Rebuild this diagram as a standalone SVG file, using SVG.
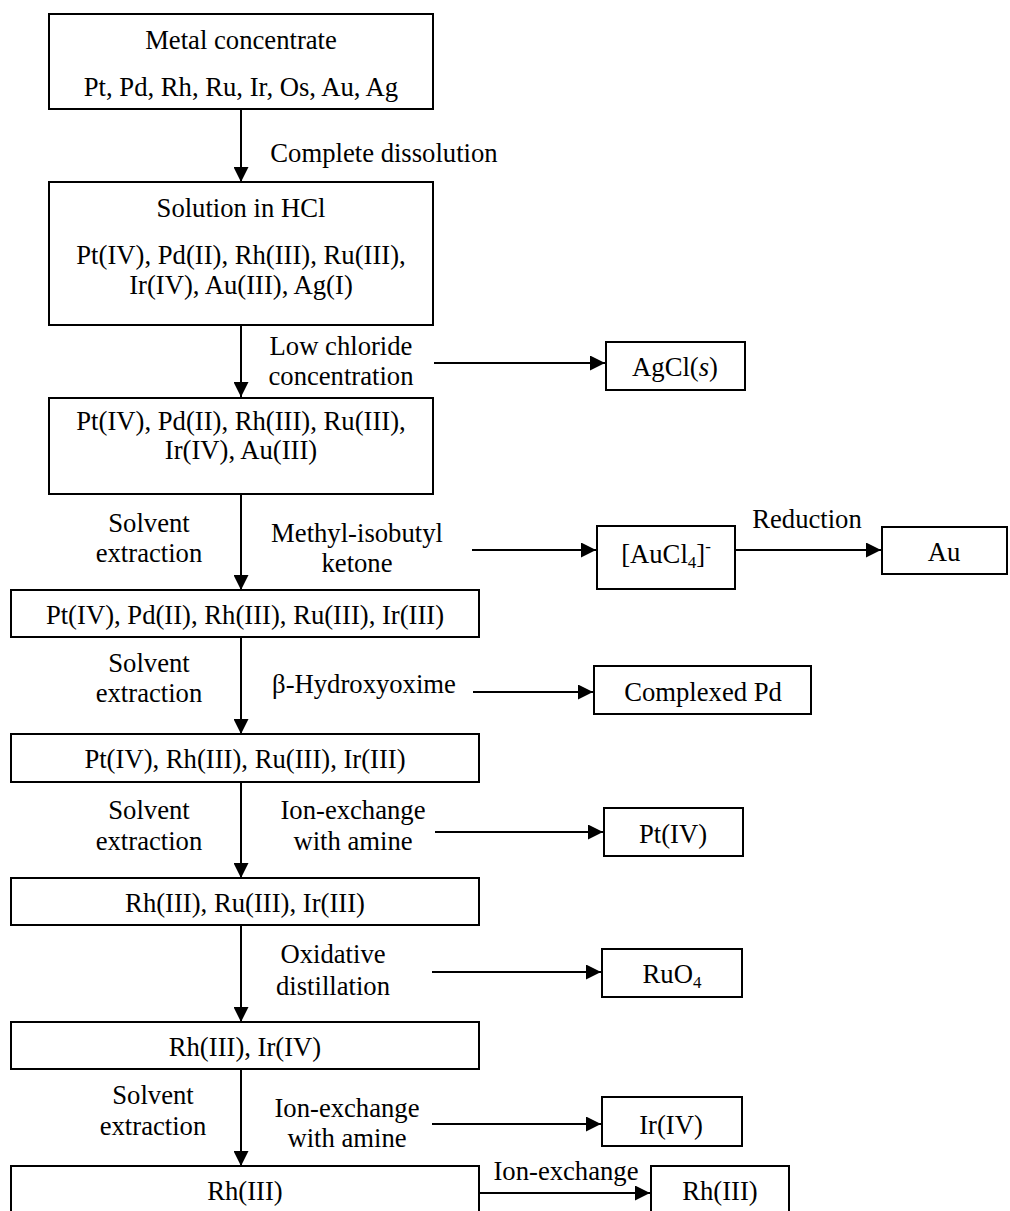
<svg xmlns="http://www.w3.org/2000/svg" width="1010" height="1211" viewBox="0 0 1010 1211">
<defs>
<style>
text{font-family:"Liberation Serif","Times New Roman",serif;font-size:26.67px;fill:#000;text-anchor:middle}
.box{fill:#fff;stroke:#000;stroke-width:2}
.ln{stroke:#000;stroke-width:2;fill:none}
.sub{font-size:17px}
</style>
<marker id="ah" markerWidth="15" markerHeight="15" viewBox="0 0 15 15" refX="15" refY="7.5" orient="auto" markerUnits="userSpaceOnUse">
<path d="M0,0 L15,7.5 L0,15 Z" fill="#000"/>
</marker>
</defs>
<rect width="1010" height="1211" fill="#fff"/>
<g id="connectors">
<line class="ln" x1="241" y1="109" x2="241" y2="182" marker-end="url(#ah)"/>
<line class="ln" x1="241" y1="325" x2="241" y2="397" marker-end="url(#ah)"/>
<line class="ln" x1="241" y1="494" x2="241" y2="590" marker-end="url(#ah)"/>
<line class="ln" x1="241" y1="637" x2="241" y2="734" marker-end="url(#ah)"/>
<line class="ln" x1="241" y1="782" x2="241" y2="878" marker-end="url(#ah)"/>
<line class="ln" x1="241" y1="925" x2="241" y2="1022" marker-end="url(#ah)"/>
<line class="ln" x1="241" y1="1069" x2="241" y2="1166" marker-end="url(#ah)"/>
<line class="ln" x1="434" y1="363" x2="605" y2="363" marker-end="url(#ah)"/>
<line class="ln" x1="472" y1="550" x2="596" y2="550" marker-end="url(#ah)"/>
<line class="ln" x1="735" y1="550" x2="881" y2="550" marker-end="url(#ah)"/>
<line class="ln" x1="473" y1="692" x2="593" y2="692" marker-end="url(#ah)"/>
<line class="ln" x1="435" y1="832" x2="603" y2="832" marker-end="url(#ah)"/>
<line class="ln" x1="432" y1="972" x2="601" y2="972" marker-end="url(#ah)"/>
<line class="ln" x1="432" y1="1124" x2="601" y2="1124" marker-end="url(#ah)"/>
<line class="ln" x1="479" y1="1193" x2="650" y2="1193" marker-end="url(#ah)"/>
<text x="384" y="162">Complete dissolution</text>
<text x="341" y="355">Low chloride</text>
<text x="341" y="385">concentration</text>
<text x="149" y="532">Solvent</text>
<text x="149" y="562">extraction</text>
<text x="357" y="542">Methyl-isobutyl</text>
<text x="357" y="572">ketone</text>
<text x="807" y="528">Reduction</text>
<text x="149" y="672">Solvent</text>
<text x="149" y="702">extraction</text>
<text x="364" y="693">β-Hydroxyoxime</text>
<text x="149" y="819">Solvent</text>
<text x="149" y="850">extraction</text>
<text x="353" y="819">Ion-exchange</text>
<text x="353" y="850">with amine</text>
<text x="333" y="963">Oxidative</text>
<text x="333" y="995">distillation</text>
<text x="153" y="1104">Solvent</text>
<text x="153" y="1135">extraction</text>
<text x="347" y="1117">Ion-exchange</text>
<text x="347" y="1147">with amine</text>
<text x="566" y="1180">Ion-exchange</text>
</g>
<g id="n1"><rect class="box" x="49" y="14" width="384" height="95"/>
<text x="241" y="49">Metal concentrate</text>
<text x="241" y="96">Pt, Pd, Rh, Ru, Ir, Os, Au, Ag</text></g>
<g id="n2"><rect class="box" x="49" y="182" width="384" height="143"/>
<text x="241" y="217">Solution in HCl</text>
<text x="241" y="264">Pt(IV), Pd(II), Rh(III), Ru(III),</text>
<text x="241" y="294">Ir(IV), Au(III), Ag(I)</text></g>
<g id="n3"><rect class="box" x="49" y="398" width="384" height="96"/>
<text x="241" y="430">Pt(IV), Pd(II), Rh(III), Ru(III),</text>
<text x="241" y="459">Ir(IV), Au(III)</text></g>
<g id="n4"><rect class="box" x="11" y="590" width="468" height="47"/>
<text x="245" y="624">Pt(IV), Pd(II), Rh(III), Ru(III), Ir(III)</text></g>
<g id="n5"><rect class="box" x="11" y="734" width="468" height="48"/>
<text x="245" y="768">Pt(IV), Rh(III), Ru(III), Ir(III)</text></g>
<g id="n6"><rect class="box" x="11" y="878" width="468" height="47"/>
<text x="245" y="912">Rh(III), Ru(III), Ir(III)</text></g>
<g id="n7"><rect class="box" x="11" y="1022" width="468" height="47"/>
<text x="245" y="1056">Rh(III), Ir(IV)</text></g>
<g id="n8"><rect class="box" x="11" y="1166" width="468" height="60"/>
<text x="245" y="1200">Rh(III)</text></g>
<g id="agcl"><rect class="box" x="606" y="342" width="139" height="48"/>
<text x="675" y="376">AgCl(<tspan font-style="italic">s</tspan>)</text></g>
<g id="aucl4"><rect class="box" x="597" y="526" width="138" height="63"/>
<text x="666" y="563">[AuCl<tspan class="sub" dy="5">4</tspan><tspan dy="-5">]</tspan><tspan class="sub" dy="-11">-</tspan></text></g>
<g id="au"><rect class="box" x="882" y="527" width="125" height="47"/>
<text x="944" y="561">Au</text></g>
<g id="pd"><rect class="box" x="594" y="666" width="217" height="48"/>
<text x="703" y="701">Complexed Pd</text></g>
<g id="pt"><rect class="box" x="604" y="808" width="139" height="48"/>
<text x="673" y="843">Pt(IV)</text></g>
<g id="ruo4"><rect class="box" x="602" y="949" width="140" height="48"/>
<text x="672" y="983">RuO<tspan class="sub" dy="5">4</tspan></text></g>
<g id="ir"><rect class="box" x="602" y="1097" width="140" height="49"/>
<text x="671" y="1134">Ir(IV)</text></g>
<g id="rh"><rect class="box" x="651" y="1166" width="138" height="60"/>
<text x="720" y="1200">Rh(III)</text></g>
</svg>
